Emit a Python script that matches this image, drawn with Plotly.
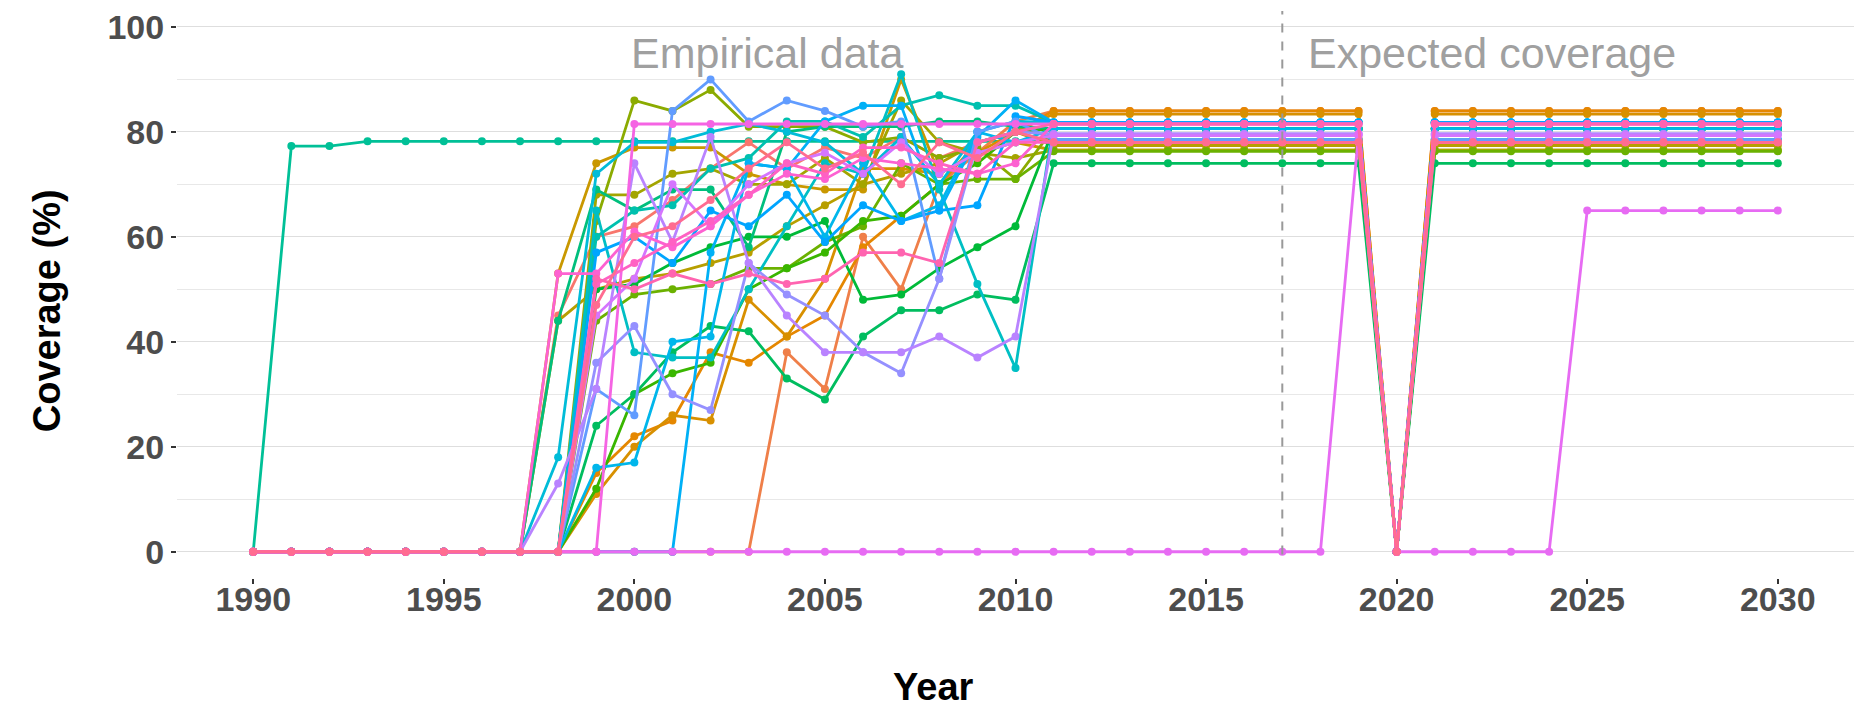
import plotly.graph_objects as go

years = list(range(1990, 2031))

# empirical coverage 1998..2010, then the expected plateau used for 2011-2019 and 2021-2030
colours = ["#F8766D", "#EF7F49", "#E58700", "#D89000", "#C99800", "#B79F00", "#A3A500",
           "#8BAB00", "#6BB100", "#39B600", "#00BA38", "#00BD5F", "#00BF7D", "#00C0AF",
           "#00BFC4", "#00BCD8", "#00B6EB", "#00B0F6", "#00A5FF", "#619CFF", "#9590FF",
           "#B983FF", "#D575FE", "#F564E3", "#FD61D1", "#FF61C3", "#FF64B0", "#FF6C91"]

empirical = [
    [45, 60, 62, 67, 73, 78, 73, 77, 75, 79, 75, 78, 80],
    [0, 0, 0, 0, 0, 0, 38, 31, 60, 50, 70, 76, 82],
    [0, 15, 22, 25, 38, 36, 41, 45, 58, 64, 70, 78, 80],
    [0, 11, 20, 26, 25, 48, 41, 52, 73, 73, 72, 76, 80],
    [53, 74, 77, 77, 77, 72, 70, 69, 69, 90, 72, 76, 78],
    [44, 50, 52, 53, 55, 57, 62, 66, 70, 72, 74, 78, 80],
    [0, 68, 68, 72, 73, 70, 70, 75, 70, 86, 78, 76, 75],
    [0, 63, 86, 84, 88, 81, 81, 81, 78, 79, 75, 77, 71],
    [0, 44, 49, 50, 51, 54, 54, 59, 62, 74, 70, 71, 71],
    [0, 12, 30, 34, 36, 50, 54, 57, 63, 64, 70, 74, 80],
    [0, 50, 51, 55, 58, 60, 60, 63, 48, 49, 54, 58, 62],
    [0, 24, 30, 38, 43, 42, 33, 29, 41, 46, 46, 49, 48],
    [44, 69, 65, 69, 69, 58, 80, 81, 81, 81, 82, 82, 81],
    [0, 60, 65, 66, 73, 75, 82, 82, 79, 85, 87, 85, 85],
    [0, 65, 38, 37, 37, 50, 62, 74, 72, 91, 69, 51, 35],
    [18, 72, 78, 78, 80, 81.5, 80, 78, 72, 79, 70, 80, 82],
    [0, 16, 17, 40, 41, 74, 73, 60, 74, 63, 66, 80, 78],
    [0, 0, 0, 0, 57, 74, 73, 82, 85, 85, 65, 79, 86],
    [0, 57, 60, 55, 65, 62, 68, 59, 66, 63, 65, 66, 83],
    [0, 31, 26, 84, 90, 82, 86, 84, 81, 82, 52, 80, 82],
    [0, 36, 43, 30, 27, 55, 49, 45, 38, 34, 52, 78, 80],
    [13, 31, 74, 59, 79, 55, 45, 38, 38, 38, 41, 37, 41],
    [0, 45, 52, 70, 62, 70, 74, 76, 72, 78, 72, 76, 78],
    [0, 0, 81.5, 81.5, 81.5, 81.5, 81.5, 81.5, 81.5, 81.5, 81.5, 81.5, 81.5],
    [53, 53, 61, 58, 62, 68, 72, 71, 75, 74, 73, 72, 74],
    [0, 51, 55, 59, 63, 68, 74, 72, 77, 77, 74, 72, 78],
    [0, 52, 50, 53, 51, 53, 51, 52, 57, 57, 55, 78, 80],
    [0, 47, 60, 62, 67, 73, 78, 73, 76, 70, 78, 75, 80],
]
plateau = [78.0, 84.0, 84.0, 83.4, 76.5, 77.4, 76.5, 80.6, 76.3, 80.6, 80.6, 74.0, 80.6, 81.8,
           81.8, 81.8, 80.6, 81.8, 81.8, 78.5, 79.6, 79.6, 79.3, 81.5, 81.5, 78.0, 81.5, 78.0]

# early adopter (from 1991), values 1990..2010
early_colour = "#00C097"
early_values = [0, 77.3, 77.3, 78.2, 78.2, 78.2, 78.2, 78.2, 78.2, 78.2, 78.2,
                78.2, 78.2, 78.2, 78.2, 78.2, 78.2, 78.2, 78.2, 78.2, 78.2]
early_plateau = 78.5

# late adopter: zero until 2018, expected 79.6 in 2019, 65 from 2025
late_colour = "#E76BF3"
late_2019 = 79.6
late_from_2025 = 65

fig = go.Figure()


def add_line(vals, col):
    fig.add_trace(go.Scatter(
        x=years, y=vals, mode="lines+markers",
        line=dict(color=col, width=2.8),
        marker=dict(color=col, size=8),
        showlegend=False, hoverinfo="x+y"))


def full_series(emp, plat):
    return [0] * 8 + emp + [plat] * 9 + [0] + [plat] * 10


add_line(early_values + [early_plateau] * 9 + [0] + [early_plateau] * 10, early_colour)
late_vals = [0] * 29 + [late_2019] + [0] * 5 + [late_from_2025] * 6

order = list(range(len(colours)))
for i in order[:23]:
    add_line(full_series(empirical[i], plateau[i]), colours[i])
add_line(late_vals, late_colour)
for i in order[23:]:
    add_line(full_series(empirical[i], plateau[i]), colours[i])

fig.add_shape(type="line", x0=2017, x1=2017, y0=-0.5, y1=1, xref="x", yref="paper",
              line=dict(color="#999999", width=2, dash="dash"))
fig.update_shapes(y0=-0.5, yref="y")
fig.layout.shapes[0].y1 = 103.03

fig.add_annotation(x=2003.5, y=95, text="Empirical data", showarrow=False,
                   font=dict(size=43, color="#A0A0A0", family="Liberation Sans, Arial"))
fig.add_annotation(x=2022.5, y=95, text="Expected coverage", showarrow=False,
                   font=dict(size=43, color="#A0A0A0", family="Liberation Sans, Arial"))

fig.add_annotation(x=0.451, y=-0.193, xref="paper", yref="paper", text="<b>Year</b>",
                   showarrow=False, yanchor="middle",
                   font=dict(size=38, color="black", family="Liberation Sans, Arial"))
fig.add_annotation(x=-0.077, y=0.472, xref="paper", yref="paper", text="<b>Coverage (%)</b>",
                   showarrow=False, textangle=-90, xanchor="center",
                   font=dict(size=38, color="black", family="Liberation Sans, Arial"))

tick_font = dict(size=34, color="#4D4D4D", family="Liberation Sans, Arial")

fig.update_layout(
    width=1868, height=702,
    margin=dict(l=169, r=22, t=0, b=132),
    plot_bgcolor="white", paper_bgcolor="white",
    xaxis=dict(range=[1988, 2032], tickvals=[1990, 1995, 2000, 2005, 2010, 2015, 2020, 2025, 2030],
               ticktext=["<b>%d</b>" % y for y in range(1990, 2031, 5)],
               showgrid=False, zeroline=False, ticks="outside", ticklen=5, tickwidth=1.5,
               tickcolor="#333333", tickfont=tick_font, ticklabelstandoff=-14),
    yaxis=dict(range=[-5, 103.03], tickvals=[0, 20, 40, 60, 80, 100],
               ticktext=["<b>%d</b>" % v for v in range(0, 101, 20)],
               showgrid=True, gridcolor="#DEDEDE", gridwidth=1.3, zeroline=False,
               ticks="outside", ticklen=5, tickwidth=1.5, tickcolor="#333333",
               tickfont=tick_font, ticklabeloverflow="allow",
               minor=dict(tickvals=[10, 30, 50, 70, 90], showgrid=True,
                          gridcolor="#E8E8E8", gridwidth=1, ticks="")),
)

fig.write_html("out.html")
